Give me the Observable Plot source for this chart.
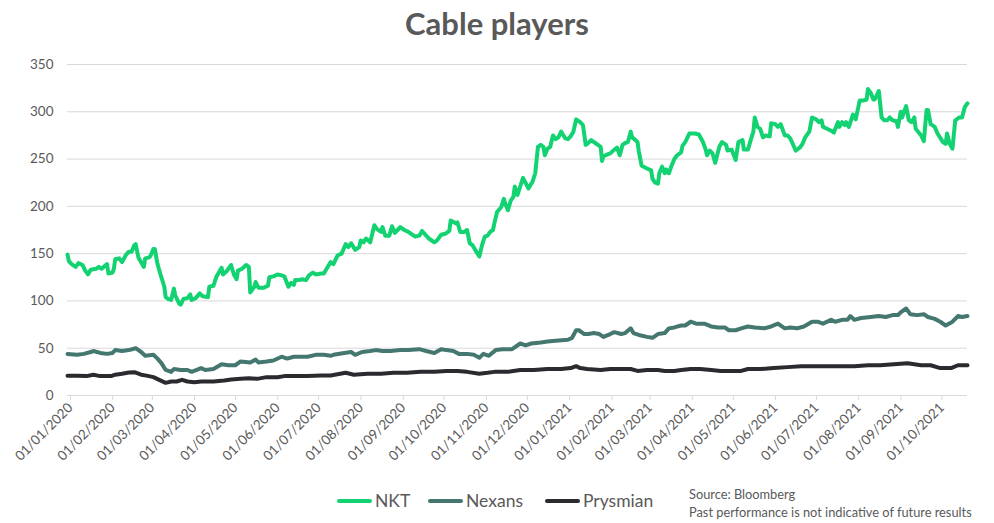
<!DOCTYPE html>
<html>
<head>
<meta charset="utf-8">
<script src="https://cdn.jsdelivr.net/npm/d3@7"></script>
<script src="https://cdn.jsdelivr.net/npm/@observablehq/plot@0.6"></script>
<style>
  body { margin: 0; background: #fff; font-family: Lato, "Open Sans", sans-serif; }
  #wrap { position: relative; width: 994px; height: 523px; overflow: hidden; background: #fff; }
  #title { position: absolute; left: 0; top: 4px; width: 994px; text-align: center; font-size: 31px; font-weight: bold; color: #595959; }
  #chart { position: absolute; left: 0; top: 50px; }
  #legend { position: absolute; top: 488px; left: 0; width: 700px; height: 26px; font-size: 17.5px; color: #595959; }
  .sw { position: absolute; top: 11px; width: 35px; height: 4px; border-radius: 2px; }
  .lt { position: absolute; top: 0; line-height: 26px; }
  #source { position: absolute; left: 689px; top: 485px; font-size: 12.8px; line-height: 18px; color: #595959; }
</style>
</head>
<body>
<div id="wrap">
  <div id="title">Cable players</div>
  <div id="chart"></div>
  <div id="legend"></div>
  <div id="source">Source: Bloomberg<br>Past performance is not indicative of future results</div>
</div>
<script>
// ---- data (days since startDate) ----
const startDate = "2020-01-01";
const endDay = 660;
const seriesNames = ["NKT", "Nexans", "Prysmian"];
const seriesColors = ["#12d271", "#44776f", "#2a2a2f"];
const yTicks = [0, 50, 100, 150, 200, 250, 300, 350];
const monthTicks = ["2020-01-01","2020-02-01","2020-03-01","2020-04-01","2020-05-01","2020-06-01","2020-07-01","2020-08-01","2020-09-01","2020-10-01","2020-11-01","2020-12-01","2021-01-01","2021-02-01","2021-03-01","2021-04-01","2021-05-01","2021-06-01","2021-07-01","2021-08-01","2021-09-01","2021-10-01"];

const nktDay = [0,1,3,6,8,11,13,15,17,21,23,25,29,30,33,34,35,38,40,43,45,47,49,50,52,56,57,60,61,63,64,66,68,71,72,74,76,78,79,82,83,85,88,90,91,94,97,99,103,104,107,109,111,113,114,117,120,122,124,125,128,131,133,134,137,138,140,144,147,148,151,154,157,159,162,164,166,167,170,172,175,177,180,182,186,188,190,193,
195,198,201,204,206,208,211,214,215,217,219,222,225,227,230,231,233,236,238,240,242,244,247,250,252,255,258,260,263,265,269,271,274,277,280,281,285,286,288,291,293,295,297,299,302,304,306,308,310,312,313,315,318,320,321,323,325,327,328,330,332,334,337,338,341,343,344,345,347,349,350,352,354,356,358,360,362,365,367,369,371,373,376,378,380,381,384,387,389,391,392,393,396,398,401,403,405,407,409,411,413,414,415,418,419,421,
425,428,429,431,433,434,436,438,439,441,443,445,447,450,451,453,456,460,463,466,468,469,471,473,475,478,480,483,484,487,490,492,495,496,499,501,503,504,506,508,510,512,515,516,519,521,523,526,528,530,534,537,539,541,544,546,549,551,553,554,557,560,562,565,566,568,570,571,573,576,578,581,584,586,587,589,591,592,595,597,599,601,603,605,608,609,611,612,615,617,619,621,622,626,628,630,631,633,636,638,642,644,645,647,649,651,654,656,658,660];
const nktVal = [149,142,139,136,140,138,132,128,133,134,136,134,139,129,130,134,144,145,141,149,152,152,159,160,146,136,145,146,148,155,155,139,129,115,104,102,101,113,106,97,96,102,103,107,101,103,108,105,104,115,116,125,130,135,128,132,138,128,123,132,134,138,136,109,115,120,114,114,116,125,126,128,127,126,115,119,117,122,122,123,122,127,130,128,129,129,134,141,
139,148,150,160,157,161,154,157,164,162,166,162,180,176,173,178,169,169,179,172,175,178,175,173,171,168,169,174,169,166,162,164,170,171,174,185,182,183,173,173,175,161,159,154,147,159,168,169,173,175,182,194,199,208,203,196,206,210,221,212,221,230,222,219,226,235,249,263,265,263,254,261,263,275,271,273,279,272,271,274,279,292,289,286,265,266,270,267,265,263,248,253,255,256,260,262,254,265,267,268,279,273,272,268,258,243,
240,238,229,225,224,235,242,235,239,235,243,250,254,257,264,268,277,277,276,268,260,254,259,256,246,263,268,265,259,260,249,268,270,260,260,270,279,294,284,282,273,275,274,288,287,284,287,275,275,272,259,262,266,273,279,294,292,289,291,284,282,280,278,289,284,289,286,289,284,297,292,312,312,313,324,320,313,313,322,294,291,291,294,291,290,284,300,294,306,291,289,294,282,275,269,302,302,287,284,277,268,266,277,266,261,291,294,294,305,309];

const nexDay = [0,7,12,17,19,24,29,33,35,40,45,50,54,57,63,66,69,72,76,78,83,88,91,98,101,107,113,118,123,127,134,138,140,146,151,157,161,166,176,182,188,193,
195,203,208,211,216,222,226,231,237,244,250,258,263,269,274,278,283,287,293,298,302,305,309,314,319,326,332,336,340,347,352,358,367,370,373,375,379,382,386,390,393,398,401,406,409,413,415,419,
425,429,433,438,441,445,450,453,457,461,467,472,477,482,485,490,494,499,504,511,516,521,526,530,535,540,546,550,554,560,563,568,572,574,577,582,589,595,600,605,609,611,615,618,623,628,631,636,640,644,649,653,656,660];
const nexVal = [44,43,44,46,47,45,44,45,48,47,48,50,46,42,43,39,34,27,25,28,27,27,25,29,27,28,33,32,32,36,35,38,35,36,37,41,39,41,41,43,43,42,
43,45,46,43,46,47,48,47,47,48,48,49,47,45,49,48,47,44,44,43,40,44,42,48,49,49,55,53,55,56,57,58,59,61,69,69,65,65,66,65,62,65,67,65,66,71,66,64,
62,61,65,66,71,72,74,74,78,76,76,73,72,72,69,69,71,73,72,71,73,76,71,72,71,73,78,78,76,80,78,80,80,84,80,82,83,84,83,85,85,88,92,86,85,86,83,81,78,74,78,84,83,84];

const prysDay = [0,7,14,19,24,32,35,40,45,49,51,54,58,63,68,72,76,80,84,88,93,98,107,115,120,127,133,139,146,154,159,166,176,186,193,
200,204,210,220,230,239,249,259,269,278,286,293,302,308,313,323,332,342,352,362,369,373,376,381,391,398,406,413,418,
425,433,438,445,450,457,464,472,479,486,494,499,508,518,528,538,548,557,567,577,587,596,606,616,626,633,640,648,653,660];
const prysVal = [21,21,20.5,22,20.5,20.5,22,23,24.3,24.7,23.6,22,21,19.4,16,13.4,14.8,14.8,16.6,14.8,14.1,14.8,14.8,15.9,17,17.6,18.3,17.6,19.4,19.4,20.5,20.5,20.5,21.2,21.2,
23,24,22,23,23,24,24,25,25,26,26,25,23,24,25,25,27,27,28,28,29,31,29,28,27,28,28,28,26,
27,27,26,26,27,28,28,27,26,26,26,28,28,29,30,31,31,31,31,31,32,32,33,34,32,32,29,29,32,32];

// ---- build table ----
const parse = d3.utcParse("%Y-%m-%d");
const start = parse(startDate);
const rows = [];
[[nktDay, nktVal], [nexDay, nexVal], [prysDay, prysVal]].forEach(([days, vals], i) => {
  days.forEach((d, j) => rows.push({series: seriesNames[i], date: d3.utcDay.offset(start, d), value: vals[j]}));
});
const fmt = d3.utcFormat("%d/%m/%Y");

const chart = Plot.plot({
  width: 994,
  height: 430,
  marginLeft: 67,
  marginRight: 27,
  marginTop: 14,
  marginBottom: 85,
  style: {fontFamily: "Lato, 'Open Sans', sans-serif", fontSize: "13.5px", color: "#595959", background: "transparent"},
  x: {type: "utc", domain: [start, d3.utcDay.offset(start, endDay)]},
  y: {domain: [0, 350]},
  color: {domain: seriesNames, range: seriesColors},
  marks: [
    Plot.gridY(yTicks, {stroke: "#d9d9d9", strokeOpacity: 1, strokeWidth: 1}),
    Plot.axisY(yTicks, {tickSize: 0, tickPadding: 14, label: null, fill: "#595959"}),
    Plot.axisX(monthTicks.map(parse), {tickRotate: -45, tickSize: 5, tickPadding: 5, stroke: "#d9d9d9", fill: "#595959", tickFormat: fmt, label: null, dx: 3}),
    Plot.ruleY([0], {stroke: "#d9d9d9", strokeWidth: 1}),
    Plot.line(rows, {x: "date", y: "value", z: "series", stroke: "series", strokeWidth: 4, strokeLinejoin: "round", strokeLinecap: "round"})
  ]
});
document.getElementById("chart").appendChild(chart);

const legend = document.getElementById("legend");
const swatchX = [337, 428, 545];
seriesNames.forEach((n, i) => {
  const sw = document.createElement("div");
  sw.className = "sw";
  sw.style.left = swatchX[i] + "px";
  sw.style.background = seriesColors[i];
  const t = document.createElement("span");
  t.className = "lt";
  t.style.left = (swatchX[i] + 38) + "px";
  t.textContent = n;
  legend.appendChild(sw);
  legend.appendChild(t);
});
</script>
</body>
</html>
